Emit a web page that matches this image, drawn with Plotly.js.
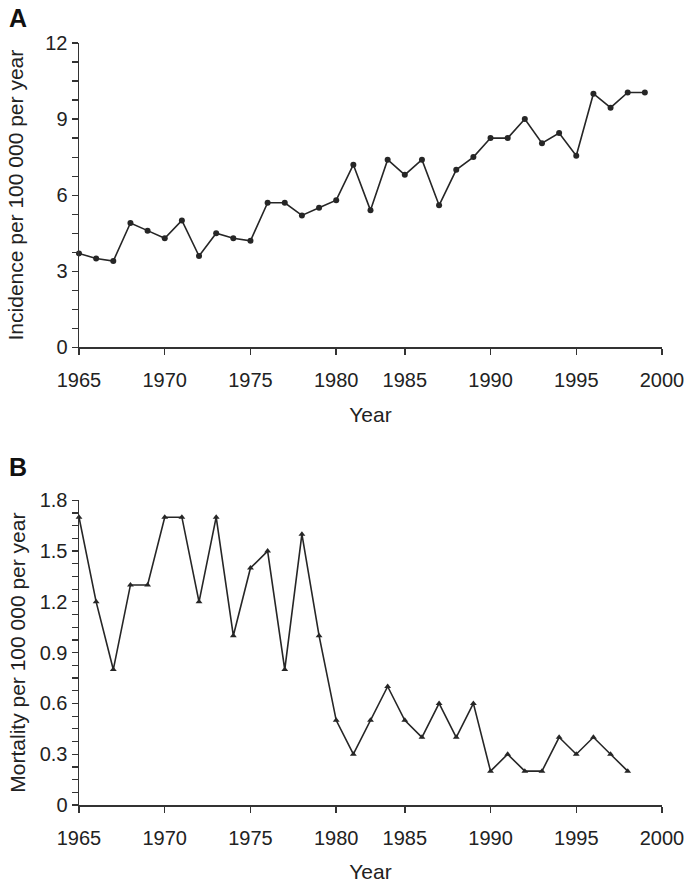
<!DOCTYPE html>
<html>
<head>
<meta charset="utf-8">
<script src="https://cdn.plot.ly/plotly-3.0.1.min.js"></script>
<style>html,body{margin:0;padding:0;background:#fff}#chart{width:685px;height:886px}</style>
</head>
<body>
<div id="chart"></div>
<script>
// Panel A: incidence
const yearsA = [1965,1966,1967,1968,1969,1970,1971,1972,1973,1974,1975,1976,1977,1978,1979,1980,1981,1982,1983,1984,1985,1986,1987,1988,1989,1990,1991,1992,1993,1994,1995,1996,1997,1998];
const incidence = [3.7,3.5,3.4,4.9,4.6,4.3,5.0,3.6,4.5,4.3,4.2,5.7,5.7,5.2,5.5,5.8,7.2,5.4,7.4,6.8,7.4,5.6,7.0,7.5,8.25,8.25,9.0,8.05,8.45,7.55,10.0,9.45,10.05,10.05];
// Panel B: mortality
const yearsB = [1965,1966,1967,1968,1969,1970,1971,1972,1973,1974,1975,1976,1977,1978,1979,1980,1981,1982,1983,1984,1985,1986,1987,1988,1989,1990,1991,1992,1993,1994,1995,1996,1997];
const mortality = [1.7,1.2,0.8,1.3,1.3,1.7,1.7,1.2,1.7,1.0,1.4,1.5,0.8,1.6,1.0,0.5,0.3,0.5,0.7,0.5,0.4,0.6,0.4,0.6,0.2,0.3,0.2,0.2,0.4,0.3,0.4,0.3,0.2];
// x tick positions and labels as printed on the original axis
const xTickVals = [1965,1970,1975,1980,1984,1989,1994,1999];
const xTickText = ['1965','1970','1975','1980','1985','1990','1995','2000'];
// y tick labels of panel B
const yTickValsB = [0,0.3,0.6,0.9,1.2,1.5,1.8];
const yTickTextB = ['0','0.3','0.6','0.9','1.2','1.5','1.8'];

const font = 'Liberation Sans, Arial, sans-serif';
const lineCol = '#262626';
const txtCol = '#222';
const fs = 20;
const fsTitle = 21;

const traces = [
  {x: yearsA, y: incidence, xaxis:'x', yaxis:'y', mode:'lines+markers', type:'scatter',
   line:{color:lineCol, width:1.6}, marker:{symbol:'circle', size:6, color:lineCol}, cliponaxis:false},
  {x: yearsB, y: mortality, xaxis:'x2', yaxis:'y2', mode:'lines+markers', type:'scatter',
   line:{color:lineCol, width:1.6}, marker:{symbol:'triangle-up', size:6, color:lineCol}, cliponaxis:false}
];

const xCommon = {
  range:[1965,1999], tickmode:'array', tickvals:xTickVals, ticktext:xTickText,
  showgrid:false, zeroline:false, showline:true, linecolor:'#333', linewidth:1.5,
  ticks:'outside', ticklen:6, tickwidth:1.5, tickcolor:'#333', ticklabelstandoff:8,
  ticklabeloverflow:'allow',
  tickfont:{family:font, size:fs, color:txtCol}
};
const yCommon = {
  showgrid:false, zeroline:false, showline:true, linecolor:'#333', linewidth:1.5,
  ticks:'outside', ticklen:6, tickwidth:1.2, tickcolor:'#333',
  tickfont:{family:font, size:fs, color:txtCol}
};

const layout = {
  width:685, height:886,
  margin:{l:79, r:23, t:43, b:81},
  showlegend:false,
  paper_bgcolor:'#fff', plot_bgcolor:'#fff',
  xaxis: Object.assign({}, xCommon, {domain:[0,1], anchor:'y',
    title:{text:'Year', font:{family:font, size:fsTitle, color:txtCol}, standoff:17}}),
  yaxis: Object.assign({}, yCommon, {domain:[0.6007,1], anchor:'x', range:[0,12], dtick:3, tick0:0,
    minor:{dtick:0.75, ticks:'outside', ticklen:6, tickwidth:1.2, tickcolor:'#333'},
    title:{text:'Incidence per 100 000 per year', font:{family:font, size:fsTitle, color:txtCol}, standoff:16}}),
  xaxis2: Object.assign({}, xCommon, {domain:[0,1], anchor:'y2',
    title:{text:'Year', font:{family:font, size:fsTitle, color:txtCol}, standoff:17}}),
  yaxis2: Object.assign({}, yCommon, {domain:[0,0.3999], anchor:'x2', range:[0,1.8],
    tickmode:'array', tickvals:yTickValsB, ticktext:yTickTextB,
    minor:{tickmode:'linear', tick0:0, dtick:0.075, ticks:'outside', ticklen:6, tickwidth:1.2, tickcolor:'#333'},
    title:{text:'Mortality per 100 000 per year', font:{family:font, size:fsTitle, color:txtCol}, standoff:8}}),
  annotations:[
    {text:'<b>A</b>', xref:'paper', yref:'paper', x:-0.124, y:1.033, xanchor:'left', yanchor:'middle', showarrow:false, font:{family:font, size:25, color:'#111'}},
    {text:'<b>B</b>', xref:'paper', yref:'paper', x:-0.124, y:0.4436, xanchor:'left', yanchor:'middle', showarrow:false, font:{family:font, size:25, color:'#111'}}
  ]
};

Plotly.newPlot('chart', traces, layout, {displayModeBar:false, staticPlot:true});
</script>
</body>
</html>
